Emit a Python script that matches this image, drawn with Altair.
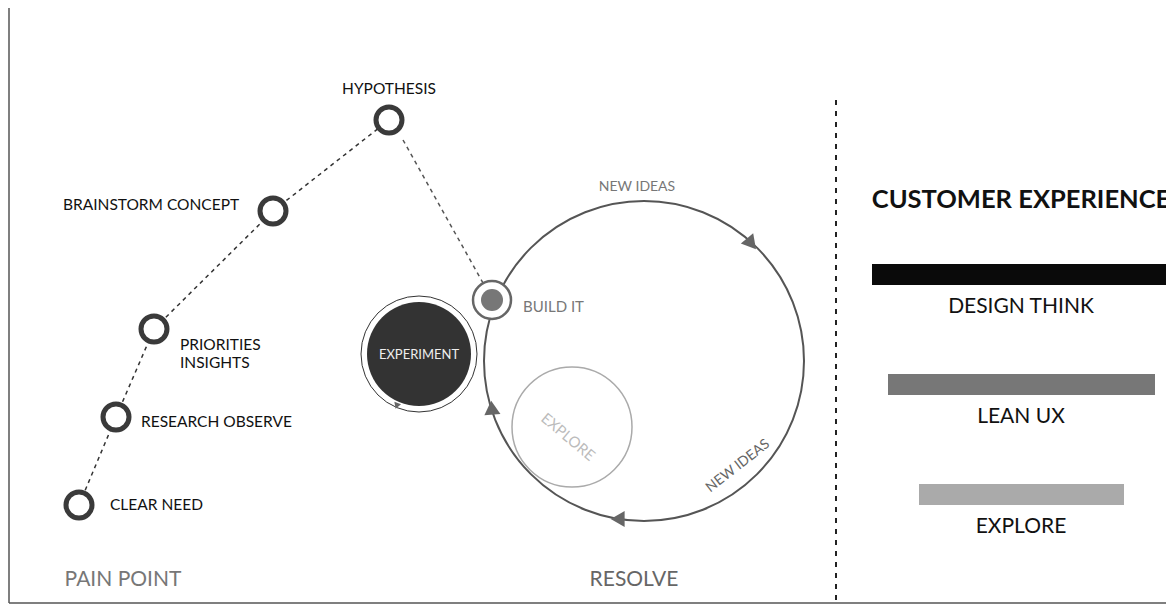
import altair as alt
import pandas as pd

node_labels = ["CLEAR NEED", "RESEARCH OBSERVE", "PRIORITIES\nINSIGHTS", "BRAINSTORM CONCEPT", "HYPOTHESIS"]
node_x = [79, 116, 154, 273, 389]
node_y = [505, 417, 329, 211, 120]
label_x = [110, 141, 180, 63, 389]
label_y = [505, 422, 345, 205, 89]
label_align = ["left", "left", "left", "left", "center"]

bar_labels = ["DESIGN THINK", "LEAN UX", "EXPLORE"]
bar_x1 = [872, 888, 919]
bar_x2 = [1172, 1155, 1124]
bar_y1 = [264, 374, 484]
bar_y2 = [285, 395, 505]
bar_colors = ["#0a0a0a", "#777777", "#aaaaaa"]
bar_text_y = [307, 417, 527]

X = alt.Scale(domain=[8, 1166], nice=False, zero=False)
Y = alt.Scale(domain=[8, 604], nice=False, zero=False, reverse=True)
def xe(f="x"): return alt.X(f"{f}:Q", scale=X, axis=None)
def ye(f="y"): return alt.Y(f"{f}:Q", scale=Y, axis=None)

layers = []

borders = pd.DataFrame({"x": [9, 9], "y": [8, 603], "x2": [9, 1166], "y2": [603, 603]})
layers.append(alt.Chart(borders).mark_rule(color="#555", strokeWidth=1.5).encode(
    x=xe(), y=ye(), x2="x2:Q", y2="y2:Q"))

div = pd.DataFrame({"x": [836], "y": [100], "y2": [600]})
layers.append(alt.Chart(div).mark_rule(color="#222", strokeWidth=2, strokeDash=[5, 6]).encode(
    x=xe(), y=ye(), y2="y2:Q"))

path = pd.DataFrame({"x": node_x, "y": node_y, "o": range(5)})
layers.append(alt.Chart(path).mark_line(color="#333", strokeWidth=1.5, strokeDash=[4, 4]).encode(
    x=xe(), y=ye(), order="o:O"))
seg = pd.DataFrame({"x": [403, 483], "y": [140, 283], "o": [0, 1]})
layers.append(alt.Chart(seg).mark_line(color="#555", strokeWidth=1.5, strokeDash=[4, 4]).encode(
    x=xe(), y=ye(), order="o:O"))

def circ(x, y, r, stroke, sw, fill="transparent", op=1):
    d = pd.DataFrame({"x": [x], "y": [y]})
    return alt.Chart(d).mark_point(shape="circle", size=(2 * r) ** 2, filled=False,
                                   stroke=stroke, strokeWidth=sw, fill=fill, fillOpacity=op,
                                   opacity=1).encode(x=xe(), y=ye())

layers.append(circ(644, 361, 160, "#555", 2))
layers.append(circ(572, 427, 60, "#aaa", 1.5))
layers.append(circ(419, 354, 58, "#333", 1))
layers.append(alt.Chart(pd.DataFrame({"x": [419], "y": [354]})).mark_point(
    shape="circle", size=104 ** 2, filled=True, color="#333", opacity=1).encode(x=xe(), y=ye()))
layers.append(circ(492, 300, 19, "#666", 2.5, fill="white"))
layers.append(alt.Chart(pd.DataFrame({"x": [492], "y": [300]})).mark_point(
    shape="circle", size=22 ** 2, filled=True, color="#777", opacity=1).encode(x=xe(), y=ye()))

arr = pd.DataFrame({"x": [750, 620, 492, 397], "y": [242, 519, 410, 405],
                    "a": [140, 270, 355, 200], "s": [260, 260, 260, 50]})
layers.append(alt.Chart(arr).mark_point(shape="triangle", filled=True, color="#666", opacity=1).encode(
    x=xe(), y=ye(), angle=alt.Angle("a:Q", scale=None), size=alt.Size("s:Q", scale=None)))

nodes = pd.DataFrame({"x": node_x, "y": node_y})
layers.append(alt.Chart(nodes).mark_point(shape="circle", size=26 ** 2, filled=False, stroke="#3a3a3a",
                                          strokeWidth=5, fill="white", fillOpacity=1, opacity=1).encode(
    x=xe(), y=ye()))

labs = pd.DataFrame({"x": label_x, "y": label_y, "t": [l.split("\n") for l in node_labels], "al": label_align})
for al in ["left", "center"]:
    layers.append(alt.Chart(labs[labs.al == al]).mark_text(
        align=al, baseline="middle", font="Lato", fontSize=15.5, color="#111", lineHeight=18).encode(
        x=xe(), y=ye(), text="t"))

def txt(x, y, t, size=15, color="#777", angle=0, weight="normal", align="center"):
    d = pd.DataFrame({"x": [x], "y": [y], "t": [t]})
    return alt.Chart(d).mark_text(font="Lato", fontSize=size, color=color, angle=angle,
                                  fontWeight=weight, align=align, baseline="middle").encode(
        x=xe(), y=ye(), text="t")

layers.append(txt(523, 307, "BUILD IT", 15, "#777", align="left"))
layers.append(txt(419, 355, "EXPERIMENT", 13, "#eee"))
layers.append(txt(568, 437, "EXPLORE", 15, "#bbb", angle=40))
layers.append(txt(637, 187, "NEW IDEAS", 14, "#777"))
layers.append(txt(738, 466, "NEW IDEAS", 14, "#666", angle=322))
layers.append(txt(123, 580, "PAIN POINT", 21, "#777"))
layers.append(txt(634, 580, "RESOLVE", 21, "#666"))
layers.append(txt(1021, 200, "CUSTOMER EXPERIENCE", 25.5, "#111", weight="bold"))

bars = pd.DataFrame({"x": bar_x1, "x2": bar_x2, "y": bar_y1, "y2": bar_y2, "c": bar_colors,
                     "t": bar_labels, "ty": bar_text_y, "tx": [1021] * 3})
layers.append(alt.Chart(bars).mark_rect().encode(
    x=xe(), x2="x2:Q", y=ye(), y2="y2:Q", color=alt.Color("c:N", scale=None)))
layers.append(alt.Chart(bars).mark_text(font="Lato", fontSize=21, color="#111", baseline="middle").encode(
    x=xe("tx"), y=ye("ty"), text="t:N"))

chart = alt.layer(*layers).properties(width=1158, height=596, padding=0, autosize="none",
                                      background="white").configure_view(stroke=None)
chart.save("out.html", embed_options={"renderer": "svg", "actions": False})
